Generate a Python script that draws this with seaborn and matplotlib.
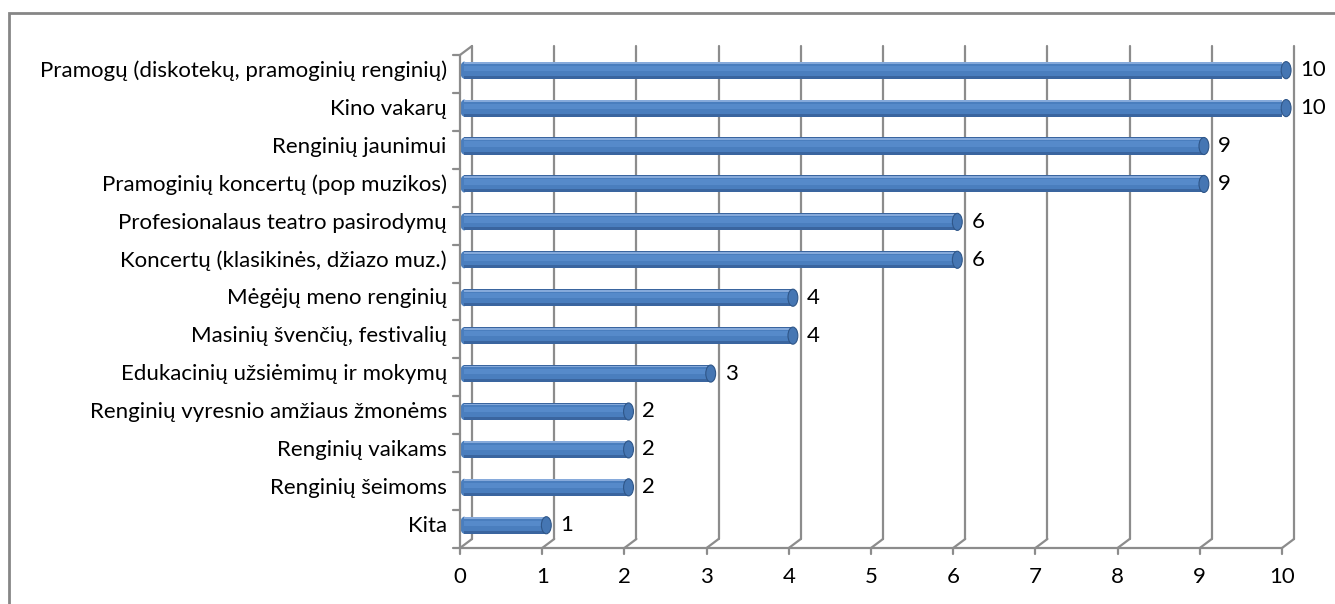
import numpy as np
import pandas as pd
import seaborn as sns
import matplotlib.pyplot as plt
from matplotlib.patches import Ellipse, Rectangle

# data, top to bottom as in the chart
categories = [
    "Pramogų (diskotekų, pramoginių renginių)",
    "Kino vakarų",
    "Renginių jaunimui",
    "Pramoginių koncertų (pop muzikos)",
    "Profesionalaus teatro pasirodymų",
    "Koncertų (klasikinės, džiazo muz.)",
    "Mėgėjų meno renginių",
    "Masinių švenčių, festivalių",
    "Edukacinių užsiėmimų ir mokymų",
    "Renginių vyresnio amžiaus žmonėms",
    "Renginių vaikams",
    "Renginių šeimoms",
    "Kita",
]
values = [10, 10, 9, 9, 6, 6, 4, 4, 3, 2, 2, 2, 1]
x_ticks = list(range(0, 11))

sns.set_theme(style="white")
plt.rcParams["font.family"] = ["Lato", "DejaVu Sans"]

W, H = 1335, 604
fig = plt.figure(figsize=(W / 100, H / 100), dpi=100)
ax = fig.add_axes([460 / W, 1 - 548 / H, 822 / W, 493 / H])

df = pd.DataFrame({"cat": categories, "val": values})

# fake 3D depth (in data units) for the back wall
dX, dY = 0.146, 0.237
grid_c = "#8c8c8c"
fs = 16

# bars (cylinder look: dark base + lighter bands)
bar_h = 0.45
shift_x, shift_y = 0.05, -0.1
sns.barplot(data=df, y="cat", x="val", orient="h", width=bar_h,
            color="#3a659f", saturation=1, ax=ax, zorder=3, linewidth=0)
for p in ax.patches:
    p.set_x(p.get_x() + shift_x)
    p.set_y(p.get_y() + shift_y)
    p.set_edgecolor("none")

ypos = np.arange(len(categories)) + shift_y
ax.barh(ypos - 0.03, df["val"], left=shift_x, height=0.35, color="#4a7ebe", lw=0, zorder=4)
ax.barh(ypos - 0.05, df["val"], left=shift_x, height=0.14, color="#568aca", lw=0, zorder=5)
ax.barh(ypos - 0.185, df["val"], left=shift_x, height=0.05, color="#86aadb", lw=0, zorder=5)

for i, v in enumerate(values):
    # rounded left end and end cap
    ax.add_patch(Ellipse((shift_x, ypos[i]), 0.1, bar_h, color="#4a7ebe", lw=0, zorder=2, clip_on=False))
    ax.add_patch(Ellipse((v + shift_x, ypos[i]), 0.12, bar_h, fc="#4576b3",
                         ec="#2f5688", lw=0.8, zorder=6, clip_on=False))
    ax.text(v + 0.22, ypos[i], str(v), ha="left", va="center", fontsize=fs, color="black")
    ax.text(-0.16, ypos[i] + 0.02, categories[i], ha="right", va="center", fontsize=fs, color="black")

# back wall gridlines and floor diagonals
for t in x_ticks:
    ax.plot([t + dX, t + dX], [12.5 - dY, -0.5 - dY], color=grid_c, lw=1.6, zorder=1, clip_on=False)
    ax.plot([t, t + dX], [12.5, 12.5 - dY], color=grid_c, lw=1.6, zorder=1, clip_on=False)
    ax.plot([t, t], [12.5, 12.5 + 0.16], color=grid_c, lw=1.6, clip_on=False)
    ax.text(t, 13.27, str(t), ha="center", va="center", fontsize=fs, color="black")
ax.plot([0, dX], [-0.5, -0.5 - dY], color=grid_c, lw=1.6, clip_on=False)

# front axes
ax.plot([0, 0], [-0.5, 12.5], color=grid_c, lw=1.6, clip_on=False)
ax.plot([0, 10], [12.5, 12.5], color=grid_c, lw=1.6, clip_on=False)
for b in np.arange(-0.5, 13, 1):
    ax.plot([-0.085, 0], [b, b], color=grid_c, lw=1.6, clip_on=False)

ax.set_xlim(0, 10)
ax.set_ylim(12.5, -0.5)
ax.set_xticks([])
ax.set_yticks([])
ax.set_xlabel("")
ax.set_ylabel("")
for s in ax.spines.values():
    s.set_visible(False)
ax.patch.set_alpha(0)

# outer chart border (only left and top edges visible)
fig.add_artist(Rectangle((9 / W, -0.1), 1.2, 1 - 13 / H + 0.1, transform=fig.transFigure,
                         fill=False, ec="#868686", lw=2))

fig.savefig("out.png", dpi=100)
